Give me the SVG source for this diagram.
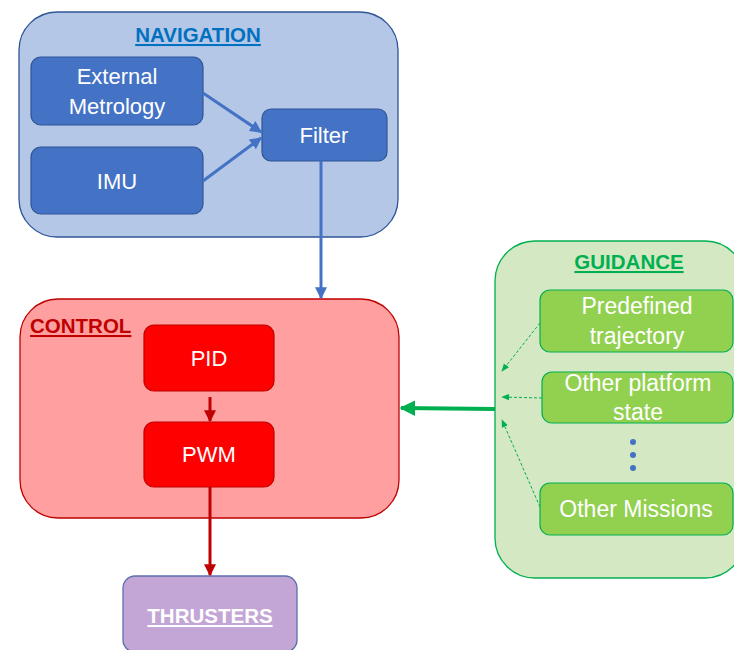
<svg xmlns="http://www.w3.org/2000/svg" width="734" height="650" viewBox="0 0 734 650">
<style>
text{font-family:"Liberation Sans",Arial,sans-serif;}
.t{fill:#fff;font-size:22px;text-anchor:middle;}
.tg{fill:#fff;font-size:23px;text-anchor:middle;}
.title{font-size:20.5px;font-weight:bold;text-decoration:underline;}
.nb{fill:#4472c4;stroke:#2f5597;stroke-width:1.2;}
.cb{fill:#ff0000;stroke:#c00000;stroke-width:1.2;}
.gb{fill:#92d050;stroke:#00b050;stroke-width:1.2;}
</style>
<defs>
<marker id="ab" viewBox="0 0 10 10" refX="9" refY="5" markerWidth="4" markerHeight="4" orient="auto"><path d="M0,0L10,5L0,10z" fill="#4472c4"/></marker>
<marker id="ar" viewBox="0 0 10 10" refX="9" refY="5" markerWidth="4" markerHeight="4" orient="auto"><path d="M0,0L10,5L0,10z" fill="#c00000"/></marker>
<marker id="ag" viewBox="0 0 10 10" refX="9" refY="5" markerWidth="4" markerHeight="4" orient="auto"><path d="M0,0L10,5L0,10z" fill="#00b050"/></marker>
<marker id="agd" viewBox="0 0 10 10" refX="9" refY="5" markerWidth="8" markerHeight="8" orient="auto"><path d="M0,1L10,5L0,9z" fill="#00b050"/></marker>
</defs>

<g id="navigation">
<rect x="19" y="12" width="379" height="225" rx="38" fill="#b4c7e7" stroke="#2f5597" stroke-width="1.3"/>
<text x="198" y="42" class="title" fill="#0070c0" text-anchor="middle" font-size="21">NAVIGATION</text>
</g>
<g id="external-metrology">
<rect class="nb" x="31" y="57" width="172" height="68" rx="10"/>
<text class="t" x="117" y="84">External</text>
<text class="t" x="117" y="114">Metrology</text>
</g>
<g id="imu">
<rect class="nb" x="31" y="147" width="172" height="67" rx="10"/>
<text class="t" x="117" y="189">IMU</text>
</g>
<g id="filter">
<rect class="nb" x="262" y="109" width="125" height="52" rx="9"/>
<text class="t" x="324" y="143">Filter</text>
</g>

<g id="control">
<rect x="20" y="299" width="379" height="219" rx="38" fill="#ff9f9f" stroke="#c00000" stroke-width="1.3"/>
<text x="30" y="333" class="title" fill="#c00000">CONTROL</text>
</g>
<g id="pid">
<rect class="cb" x="144" y="325" width="130" height="66" rx="10"/>
<text class="t" x="209" y="366">PID</text>
</g>
<g id="pwm">
<rect class="cb" x="144" y="422" width="130" height="65" rx="10"/>
<text class="t" x="209" y="462">PWM</text>
</g>

<g id="thrusters">
<rect x="123" y="576" width="174" height="76" rx="12" fill="#c3a6d6" stroke="#5b6fae" stroke-width="1.3"/>
<text x="210" y="623" class="title" fill="#fff" text-anchor="middle">THRUSTERS</text>
</g>

<g id="guidance">
<rect x="495" y="241" width="250" height="337" rx="40" fill="#d5e8c4" stroke="#00b050" stroke-width="1.3"/>
<text x="629" y="269" class="title" fill="#00b050" text-anchor="middle">GUIDANCE</text>
</g>
<g id="predefined-trajectory">
<rect class="gb" x="540" y="290" width="193" height="62" rx="10"/>
<text class="tg" x="637" y="314">Predefined</text>
<text class="tg" x="637" y="344">trajectory</text>
</g>
<g id="other-platform-state">
<rect class="gb" x="542" y="372" width="191" height="51" rx="10"/>
<text class="tg" x="638" y="391">Other platform</text>
<text class="tg" x="638" y="420">state</text>
</g>
<g id="dots" fill="#4472c4">
<circle cx="633" cy="442" r="3"/>
<circle cx="633" cy="455" r="3"/>
<circle cx="633" cy="468" r="3"/>
</g>
<g id="other-missions">
<rect class="gb" x="540" y="483" width="193" height="52" rx="10"/>
<text class="tg" x="636" y="517">Other Missions</text>
</g>

<g id="connectors" fill="none">
<line x1="203" y1="93" x2="261" y2="132" stroke="#4472c4" stroke-width="3" marker-end="url(#ab)"/>
<line x1="203" y1="181" x2="261" y2="138" stroke="#4472c4" stroke-width="3" marker-end="url(#ab)"/>
<line x1="321" y1="161" x2="321" y2="298" stroke="#4472c4" stroke-width="3" marker-end="url(#ab)"/>
<line x1="210" y1="397" x2="210" y2="421" stroke="#c00000" stroke-width="3" marker-end="url(#ar)"/>
<line x1="210" y1="487" x2="210" y2="575" stroke="#c00000" stroke-width="3" marker-end="url(#ar)"/>
<line x1="495" y1="409" x2="401" y2="408" stroke="#00b050" stroke-width="4" marker-end="url(#ag)"/>
<line x1="540" y1="323" x2="502" y2="371" stroke="#00b050" stroke-width="1" stroke-dasharray="3,2" marker-end="url(#agd)"/>
<line x1="542" y1="398" x2="502" y2="397" stroke="#00b050" stroke-width="1" stroke-dasharray="3,2" marker-end="url(#agd)"/>
<line x1="540" y1="507" x2="502" y2="420" stroke="#00b050" stroke-width="1" stroke-dasharray="3,2" marker-end="url(#agd)"/>
</g>
</svg>
